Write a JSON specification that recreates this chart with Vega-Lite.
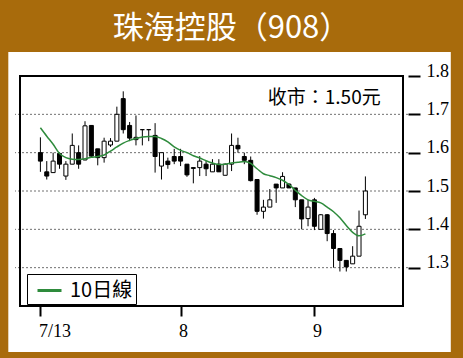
{
  "$schema": "https://vega.github.io/schema/vega-lite/v6.json",
  "width": 393,
  "height": 230,
  "autosize": {"type": "none"},
  "padding": {"left": 15, "top": 76, "right": 55, "bottom": 52},
  "background": "#A86B0C",
  "config": {"view": {"stroke": null}},
  "title": {
    "text": "珠海控股（908）",
    "color": "white",
    "font": "Noto Sans CJK TC",
    "fontSize": 31,
    "fontWeight": "normal",
    "anchor": "middle",
    "frame": "group",
    "offset": 7,
    "dx": 20
  },
  "data": {
    "values": [
      {"day": 0, "open": 1.600, "high": 1.640, "low": 1.550, "close": 1.578, "ma10": 1.665},
      {"day": 1, "open": 1.550, "high": 1.578, "low": 1.530, "close": 1.539, "ma10": 1.643},
      {"day": 2, "open": 1.548, "high": 1.600, "low": 1.548, "close": 1.578, "ma10": 1.622},
      {"day": 3, "open": 1.598, "high": 1.600, "low": 1.558, "close": 1.570, "ma10": 1.598},
      {"day": 4, "open": 1.539, "high": 1.578, "low": 1.529, "close": 1.570, "ma10": 1.587},
      {"day": 5, "open": 1.570, "high": 1.650, "low": 1.570, "close": 1.619, "ma10": 1.583},
      {"day": 6, "open": 1.600, "high": 1.619, "low": 1.558, "close": 1.570, "ma10": 1.582},
      {"day": 7, "open": 1.581, "high": 1.682, "low": 1.580, "close": 1.670, "ma10": 1.584},
      {"day": 8, "open": 1.671, "high": 1.671, "low": 1.587, "close": 1.591, "ma10": 1.588},
      {"day": 9, "open": 1.610, "high": 1.610, "low": 1.567, "close": 1.587, "ma10": 1.590},
      {"day": 10, "open": 1.587, "high": 1.639, "low": 1.574, "close": 1.630, "ma10": 1.594},
      {"day": 11, "open": 1.620, "high": 1.638, "low": 1.615, "close": 1.630, "ma10": 1.604},
      {"day": 12, "open": 1.630, "high": 1.720, "low": 1.630, "close": 1.700, "ma10": 1.615},
      {"day": 13, "open": 1.741, "high": 1.760, "low": 1.650, "close": 1.660, "ma10": 1.625},
      {"day": 14, "open": 1.671, "high": 1.680, "low": 1.630, "close": 1.638, "ma10": 1.632},
      {"day": 15, "open": 1.634, "high": 1.697, "low": 1.619, "close": 1.640, "ma10": 1.637},
      {"day": 16, "open": 1.660, "high": 1.660, "low": 1.619, "close": 1.660, "ma10": 1.641},
      {"day": 17, "open": 1.660, "high": 1.660, "low": 1.630, "close": 1.660, "ma10": 1.642},
      {"day": 18, "open": 1.645, "high": 1.677, "low": 1.548, "close": 1.590, "ma10": 1.642},
      {"day": 19, "open": 1.565, "high": 1.600, "low": 1.530, "close": 1.600, "ma10": 1.637},
      {"day": 20, "open": 1.578, "high": 1.587, "low": 1.558, "close": 1.569, "ma10": 1.628},
      {"day": 21, "open": 1.590, "high": 1.610, "low": 1.570, "close": 1.578, "ma10": 1.615},
      {"day": 22, "open": 1.590, "high": 1.610, "low": 1.565, "close": 1.578, "ma10": 1.606},
      {"day": 23, "open": 1.570, "high": 1.570, "low": 1.537, "close": 1.542, "ma10": 1.600},
      {"day": 24, "open": 1.561, "high": 1.561, "low": 1.520, "close": 1.559, "ma10": 1.592},
      {"day": 25, "open": 1.561, "high": 1.591, "low": 1.539, "close": 1.578, "ma10": 1.586},
      {"day": 26, "open": 1.570, "high": 1.578, "low": 1.539, "close": 1.558, "ma10": 1.579},
      {"day": 27, "open": 1.550, "high": 1.583, "low": 1.550, "close": 1.570, "ma10": 1.573},
      {"day": 28, "open": 1.570, "high": 1.583, "low": 1.550, "close": 1.550, "ma10": 1.569},
      {"day": 29, "open": 1.541, "high": 1.572, "low": 1.541, "close": 1.570, "ma10": 1.570},
      {"day": 30, "open": 1.570, "high": 1.650, "low": 1.552, "close": 1.619, "ma10": 1.573},
      {"day": 31, "open": 1.619, "high": 1.639, "low": 1.600, "close": 1.610, "ma10": 1.575},
      {"day": 32, "open": 1.590, "high": 1.600, "low": 1.570, "close": 1.580, "ma10": 1.577},
      {"day": 33, "open": 1.580, "high": 1.590, "low": 1.525, "close": 1.527, "ma10": 1.572},
      {"day": 34, "open": 1.530, "high": 1.530, "low": 1.438, "close": 1.447, "ma10": 1.558},
      {"day": 35, "open": 1.447, "high": 1.477, "low": 1.428, "close": 1.458, "ma10": 1.545},
      {"day": 36, "open": 1.458, "high": 1.505, "low": 1.458, "close": 1.477, "ma10": 1.540},
      {"day": 37, "open": 1.518, "high": 1.518, "low": 1.469, "close": 1.508, "ma10": 1.535},
      {"day": 38, "open": 1.508, "high": 1.549, "low": 1.508, "close": 1.538, "ma10": 1.528},
      {"day": 39, "open": 1.518, "high": 1.520, "low": 1.508, "close": 1.508, "ma10": 1.517},
      {"day": 40, "open": 1.508, "high": 1.508, "low": 1.458, "close": 1.477, "ma10": 1.502},
      {"day": 41, "open": 1.477, "high": 1.477, "low": 1.400, "close": 1.427, "ma10": 1.488},
      {"day": 42, "open": 1.428, "high": 1.477, "low": 1.408, "close": 1.458, "ma10": 1.477},
      {"day": 43, "open": 1.477, "high": 1.482, "low": 1.398, "close": 1.408, "ma10": 1.473},
      {"day": 44, "open": 1.400, "high": 1.440, "low": 1.400, "close": 1.438, "ma10": 1.469},
      {"day": 45, "open": 1.438, "high": 1.440, "low": 1.369, "close": 1.389, "ma10": 1.458},
      {"day": 46, "open": 1.389, "high": 1.398, "low": 1.300, "close": 1.350, "ma10": 1.446},
      {"day": 47, "open": 1.350, "high": 1.350, "low": 1.290, "close": 1.319, "ma10": 1.430},
      {"day": 48, "open": 1.319, "high": 1.319, "low": 1.290, "close": 1.302, "ma10": 1.410},
      {"day": 49, "open": 1.310, "high": 1.356, "low": 1.310, "close": 1.330, "ma10": 1.392},
      {"day": 50, "open": 1.330, "high": 1.449, "low": 1.330, "close": 1.408, "ma10": 1.383},
      {"day": 51, "open": 1.438, "high": 1.538, "low": 1.427, "close": 1.500, "ma10": 1.388}
    ]
  },
  "layer": [
    {
      "data": {"values": [{}]},
      "mark": {"type": "rect", "fill": "white"},
      "encoding": {
        "x": {"datum": -5.035, "type": "quantitative", "title": null},
        "x2": {"datum": 64.4},
        "y": {"datum": 1.08, "type": "quantitative", "title": null},
        "y2": {"datum": 1.8626}
      }
    },
    {
      "data": {"values": [{"level": 1.3}, {"level": 1.4}, {"level": 1.5}, {"level": 1.6}, {"level": 1.7}]},
      "mark": {"type": "rule", "color": "#707070", "strokeDash": [2, 2], "strokeWidth": 1},
      "encoding": {
        "y": {"field": "level", "type": "quantitative", "title": null}
      }
    },
    {
      "mark": {"type": "rule", "color": "black", "strokeWidth": 1},
      "encoding": {
        "x": {
          "field": "day",
          "type": "quantitative",
          "title": null,
          "scale": {"domain": [-3.2, 56.9], "nice": false, "zero": false},
          "axis": {
            "orient": "bottom",
            "values": [0, 22, 43],
            "labelExpr": "datum.value == 0 ? '7/13' : datum.value == 22 ? '8' : '9'",
            "domain": false,
            "grid": false,
            "tickColor": "black",
            "tickWidth": 2,
            "tickSize": 10,
            "labelFont": "Liberation Serif",
            "labelFontSize": 18,
            "labelColor": "black",
            "labelPadding": 6,
            "labelAlign": "left",
            "labelOffset": -2,
            "labelFlush": false,
            "labelOverlap": false,
            "zindex": 1
          }
        },
        "y": {
          "field": "low",
          "type": "quantitative",
          "title": null,
          "scale": {"domain": [1.2, 1.8], "nice": false, "zero": false},
          "axis": {
            "orient": "right",
            "values": [1.3, 1.4, 1.5, 1.6, 1.7, 1.8],
            "format": ".1f",
            "domain": false,
            "grid": false,
            "tickColor": "black",
            "tickWidth": 2,
            "tickSize": 12,
            "labelFont": "Liberation Serif",
            "labelFontSize": 18,
            "labelColor": "black",
            "labelPadding": 6,
            "labelBaseline": "alphabetic",
            "labelFlush": false,
            "labelOverlap": false,
            "zindex": 1
          }
        },
        "y2": {"field": "high"}
      }
    },
    {
      "mark": {"type": "bar", "size": 4, "stroke": "black", "strokeWidth": 1},
      "encoding": {
        "x": {"field": "day", "type": "quantitative", "title": null},
        "y": {"field": "open", "type": "quantitative", "title": null},
        "y2": {"field": "close"},
        "fill": {
          "condition": {"test": "datum.close >= datum.open", "value": "white"},
          "value": "black"
        }
      }
    },
    {
      "mark": {"type": "line", "strokeWidth": 1.5, "interpolate": "monotone"},
      "encoding": {
        "x": {"field": "day", "type": "quantitative", "title": null},
        "y": {"field": "ma10", "type": "quantitative", "title": null},
        "color": {
          "datum": "10日線",
          "scale": {"range": ["#2e8b3c"]},
          "legend": {
            "orient": "none",
            "legendX": 12,
            "legendY": 198,
            "title": null,
            "padding": 3,
            "strokeColor": "black",
            "fillColor": "white",
            "symbolType": "stroke",
            "symbolSize": 576,
            "symbolStrokeWidth": 3,
            "symbolOffset": 6,
            "labelFontSize": 20,
            "labelFont": "Noto Sans CJK TC",
            "labelColor": "black",
            "labelOffset": 7
          }
        }
      }
    },
    {
      "data": {"values": [{"note": "收市：1.50元"}]},
      "mark": {"type": "text", "align": "right", "baseline": "middle", "fontSize": 19, "font": "Noto Sans CJK TC", "color": "black"},
      "encoding": {
        "x": {"datum": 53.4, "type": "quantitative", "title": null},
        "y": {"datum": 1.7426, "type": "quantitative", "title": null},
        "text": {"field": "note"}
      }
    },
    {
      "data": {"values": [{}]},
      "mark": {"type": "rect", "fill": null, "stroke": "black", "strokeWidth": 2},
      "encoding": {
        "x": {"datum": -3.2, "type": "quantitative", "title": null},
        "x2": {"datum": 56.9},
        "y": {"datum": 1.2, "type": "quantitative", "title": null},
        "y2": {"datum": 1.8}
      }
    }
  ]
}
